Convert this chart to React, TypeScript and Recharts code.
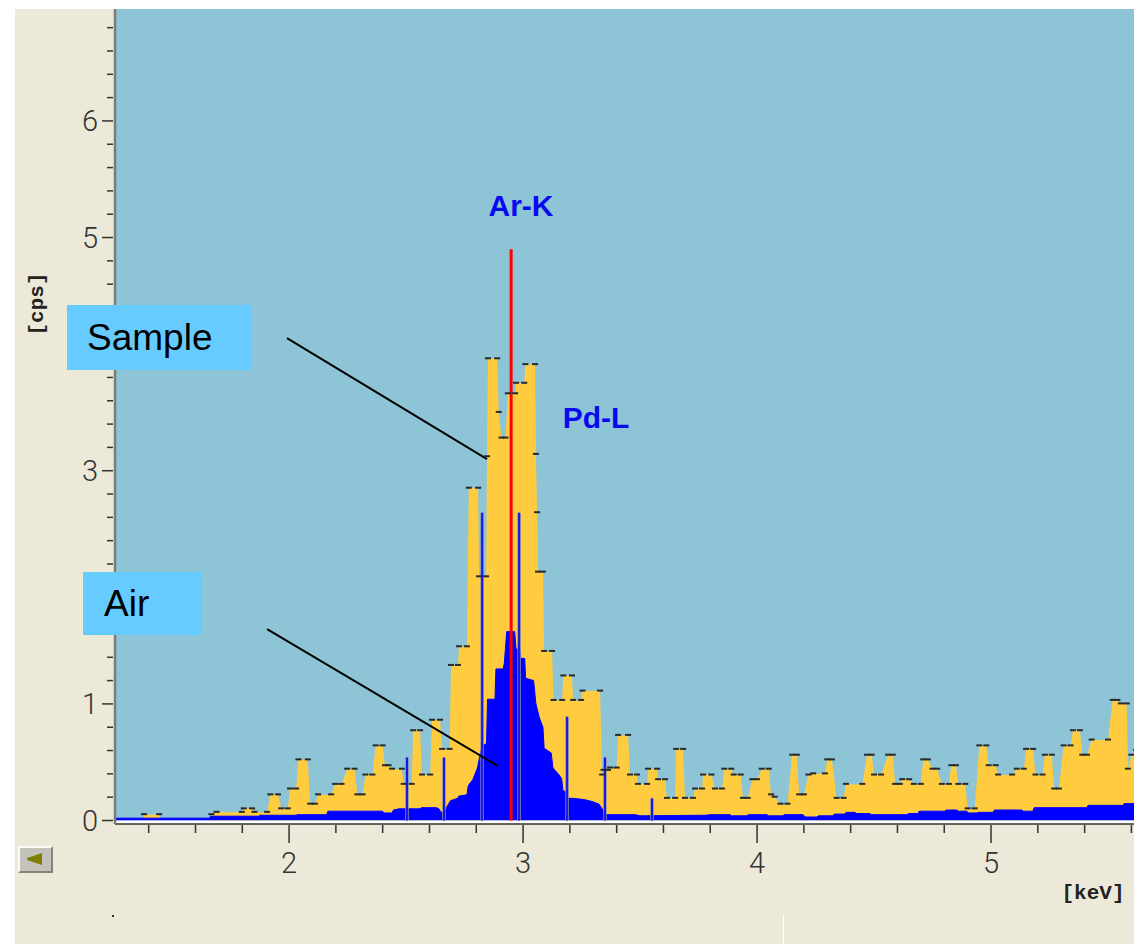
import React from 'react';
import { ComposedChart, Area, XAxis, YAxis, CartesianGrid, ReferenceLine, ReferenceArea } from 'recharts';

// Sample spectrum (keV, cps)
const sampleEnergy = [
  1.256, 1.372, 1.38, 1.445, 1.452, 1.655, 1.668, 1.69, 1.798, 1.806, 1.842, 1.852, 1.906, 1.92, 1.953, 1.966, 1.994,
  2.004, 2.03, 2.04, 2.08, 2.09, 2.11, 2.124, 2.18, 2.197, 2.224, 2.248, 2.28, 2.292, 2.314, 2.326, 2.356, 2.37, 2.4,
  2.41, 2.425, 2.44, 2.482, 2.49, 2.524, 2.53, 2.56, 2.568, 2.603, 2.611, 2.645, 2.654, 2.686, 2.692, 2.722, 2.726,
  2.76, 2.768, 2.808, 2.812, 2.842, 2.846, 2.85, 2.889, 2.896, 2.908, 2.925, 2.935, 2.966, 2.97, 3.005, 3.01, 3.051,
  3.055, 3.06, 3.064, 3.085, 3.09, 3.124, 3.13, 3.167, 3.172, 3.209, 3.214, 3.248, 3.254, 3.329, 3.338, 3.344, 3.363,
  3.372, 3.4, 3.406, 3.449, 3.457, 3.487, 3.491, 3.53, 3.534, 3.573, 3.577, 3.607, 3.615, 3.65, 3.654, 3.684, 3.692,
  3.726, 3.735, 3.765, 3.769, 3.805, 3.82, 3.85, 3.86, 3.89, 3.9, 3.93, 3.94, 3.96, 3.98, 4.0, 4.02, 4.05, 4.06, 4.075,
  4.1, 4.13, 4.15, 4.17, 4.18, 4.2, 4.22, 4.24, 4.29, 4.3, 4.32, 4.34, 4.37, 4.38, 4.45, 4.47, 4.49, 4.5, 4.53, 4.56,
  4.58, 4.59, 4.61, 4.62, 4.65, 4.67, 4.7, 4.71, 4.73, 4.75, 4.77, 4.79, 4.82, 4.83, 4.85, 4.86, 4.89, 4.9, 4.93, 4.95,
  4.98, 4.99, 5.02, 5.03, 5.09, 5.11, 5.14, 5.15, 5.18, 5.19, 5.22, 5.23, 5.26, 5.27, 5.29, 5.31, 5.34, 5.35, 5.38,
  5.39, 5.41, 5.43, 5.5, 5.52, 5.54, 5.555, 5.58, 5.585, 5.6, 5.62,
];
const sampleCps = [
  0, 0, 0.05, 0.05, 0, 0, 0.05, 0.07, 0.07, 0.1, 0.1, 0.07, 0.07, 0.22, 0.22, 0.1, 0.1,
  0.27, 0.27, 0.52, 0.52, 0.14, 0.14, 0.22, 0.22, 0.31, 0.31, 0.44, 0.44, 0.22, 0.22, 0.39, 0.39, 0.64, 0.64,
  0.47, 0.47, 0.44, 0.44, 0.31, 0.31, 0.77, 0.77, 0.39, 0.39, 0.86, 0.86, 0.61, 0.61, 1.33, 1.33, 1.49,
  1.49, 2.85, 2.85, 2.09, 2.09, 3.12, 3.96, 3.96, 3.5, 3.28, 3.28, 3.66, 3.66, 3.75, 3.75, 3.91, 3.91,
  3.14, 2.64, 2.13, 2.13, 1.45, 1.45, 1.03, 1.03, 1.24, 1.24, 1.03, 1.03, 1.11, 1.11, 0.39, 0.43, 0.43,
  0.45, 0.45, 0.73, 0.73, 0.39, 0.39, 0.31, 0.31, 0.44, 0.44, 0.35, 0.35, 0.19, 0.19, 0.61, 0.61, 0.19,
  0.19, 0.27, 0.27, 0.39, 0.39, 0.27, 0.27, 0.44, 0.44, 0.39, 0.39, 0.19, 0.19, 0.35, 0.35, 0.44, 0.44, 0.22, 0.2,
  0.14, 0.14, 0.56, 0.56, 0.22, 0.22, 0.39, 0.4, 0.4, 0.52, 0.52, 0.19, 0.19, 0.31, 0.31, 0.56, 0.56, 0.39, 0.39, 0.56,
  0.56, 0.31, 0.31, 0.35, 0.35, 0.31, 0.31, 0.52, 0.52, 0.44, 0.44, 0.31, 0.31, 0.47, 0.47, 0.31, 0.31, 0.1, 0.1, 0.64,
  0.64, 0.47, 0.47, 0.39, 0.39, 0.44, 0.44, 0.61, 0.61, 0.39, 0.39, 0.56, 0.56, 0.27, 0.27, 0.64, 0.64, 0.77, 0.77,
  0.56, 0.56, 0.69, 0.69, 1.03, 1.03, 1.0, 1.0, 0.44, 0.56, 0.6,
];

// Air spectrum (keV, cps)
const airEnergy = [
  1.256, 1.66, 1.664, 1.87, 1.874, 2.03, 2.034, 2.16, 2.166, 2.4, 2.404, 2.44, 2.446, 2.47, 2.56, 2.565, 2.63, 2.64,
  2.65, 2.665, 2.675, 2.69, 2.72, 2.726, 2.76, 2.766, 2.785, 2.805, 2.815, 2.825, 2.844, 2.848, 2.88, 2.884, 2.915,
  2.92, 2.93, 2.964, 2.97, 2.987, 2.99, 3.007, 3.011, 3.045, 3.055, 3.07, 3.085, 3.09, 3.12, 3.128, 3.15, 3.165, 3.17,
  3.186, 3.192, 3.215, 3.26, 3.3, 3.325, 3.338, 3.35, 3.48, 3.5, 3.756, 3.78, 3.799, 3.885, 3.89, 3.957, 3.962, 4.043,
  4.048, 4.111, 4.116, 4.197, 4.205, 4.256, 4.262, 4.325, 4.33, 4.376, 4.38, 4.419, 4.424, 4.483, 4.488, 4.641, 4.646,
  4.688, 4.693, 4.803, 4.808, 4.855, 4.86, 4.897, 4.902, 4.94, 4.945, 5.009, 5.014, 5.132, 5.137, 5.179, 5.184, 5.41,
  5.415, 5.564, 5.569, 5.62,
];
const airCps = [
  0.02, 0.02, 0.037, 0.037, 0.045, 0.045, 0.05, 0.05, 0.08, 0.08, 0.065, 0.065, 0.09, 0.1, 0.1, 0.11, 0.11, 0.1,
  0.07, 0.07, 0.12, 0.17, 0.19, 0.21, 0.22, 0.3, 0.35, 0.45, 0.55, 0.64, 0.66, 1.04, 1.04, 1.3, 1.3,
  1.35, 1.62, 1.62, 1.47, 1.47, 1.39, 1.39, 1.22, 1.2, 1.0, 0.88, 0.8, 0.62, 0.58, 0.45, 0.4, 0.36, 0.26,
  0.24, 0.19, 0.19, 0.18, 0.16, 0.14, 0.1, 0.05, 0.05, 0.04, 0.045, 0.045, 0.05, 0.05, 0.04, 0.04, 0.05, 0.05,
  0.04, 0.04, 0.05, 0.05, 0.03, 0.03, 0.04, 0.04, 0.055, 0.055, 0.07, 0.07, 0.06, 0.06, 0.05, 0.05, 0.06,
  0.06, 0.08, 0.08, 0.09, 0.09, 0.08, 0.08, 0.065, 0.065, 0.07, 0.07, 0.09, 0.09, 0.08, 0.08, 0.11, 0.11,
  0.13, 0.13, 0.145, 0.145,
];

// Element marker lines
const markerEnergy = [2.504, 2.662, 2.825, 2.983, 3.188, 3.35, 3.551];
const markerHeight = [0.54, 0.54, 2.64, 2.64, 0.89, 0.54, 0.19];
const arKEnergy = 2.949;
const arKHeight = 4.9;

// Annotation pointer lines (keV, cps)
const samplePointer = [{ x: 1.991, y: 4.138 }, { x: 2.846, y: 3.1 }];
const airPointer = [{ x: 1.906, y: 1.642 }, { x: 2.893, y: 0.467 }];

// Axes
const xTicks = [1.4, 1.6, 1.8, 2, 2.2, 2.4, 2.6, 2.8, 3, 3.2, 3.4, 3.6, 3.8, 4, 4.2, 4.4, 4.6, 4.8, 5, 5.2, 5.4, 5.6];
const xLabels = [2, 3, 4, 5];
const yTicks = [
  0, 0.2, 0.4, 0.6, 0.8, 1, 1.2, 1.4, 1.6, 1.8, 2, 2.2, 2.4, 2.6, 2.8, 3, 3.2, 3.4, 3.6, 3.8, 4, 4.2, 4.4, 4.6, 4.8,
  5, 5.2, 5.4, 5.6, 5.8, 6, 6.2, 6.4, 6.6, 6.8,
];
const yMajor = [0, 1, 2, 3, 4, 5, 6];
// labels 2 and 4 are hidden behind the annotation boxes in the reference
const yLabels = [0, 1, 3, 5, 6];

const sampleData = sampleEnergy.map((x, i) => ({ x, y: sampleCps[i] }));
const airData = airEnergy.map((x, i) => ({ x, y: airCps[i] }));

const tickFont = { fontFamily: 'Roboto, "DejaVu Sans", sans-serif', fontWeight: 300, fontSize: 29, fill: '#333' };

const XTick = (props: any) => {
  const { x, y, payload } = props;
  const v = payload.value;
  const major = xLabels.includes(v);
  return (
    <g>
      <line x1={x} x2={x} y1={y + 1} y2={y + (major ? 19 : 9)} stroke="#333" strokeWidth={1.5} />
      {major && (
        <text x={x} y={y + 49} textAnchor="middle" {...tickFont}>
          {v}
        </text>
      )}
    </g>
  );
};

const YTick = (props: any) => {
  const { x, y, payload } = props;
  const v = payload.value;
  const major = yMajor.includes(v);
  return (
    <g>
      <line x1={x - (major ? 13 : 8)} x2={x - 2} y1={y} y2={y} stroke="#333" strokeWidth={1.5} />
      {yLabels.includes(v) && (
        <text x={x - 17} y={y} dy="0.36em" textAnchor="end" {...tickFont}>
          {v}
        </text>
      )}
    </g>
  );
};

const renderDash = (p: any) => {
  const key = `dash-${p.index}`;
  if (!p.payload || !(p.payload.y > 0) || p.cx == null || p.cy == null) return <g key={key} />;
  return <rect key={key} x={p.cx - 3} y={p.cy - 1.5} width={6} height={2} fill="#2a2a2a" />;
};

const boxStyle: React.CSSProperties = {
  position: 'absolute',
  background: '#66CCFF',
  color: '#000',
  fontFamily: '"Liberation Sans", Arial, sans-serif',
  fontSize: 37,
  boxSizing: 'border-box',
};

const peakLabel: React.CSSProperties = {
  position: 'absolute',
  color: '#0a0af0',
  fontFamily: '"Liberation Sans", Arial, sans-serif',
  fontWeight: 700,
  fontSize: 30,
  lineHeight: '30px',
  transform: 'translate(-50%, -50%)',
  whiteSpace: 'nowrap',
};

const unitLabel: React.CSSProperties = {
  position: 'absolute',
  fontFamily: '"Liberation Mono", "DejaVu Sans Mono", monospace',
  fontWeight: 700,
  fontSize: 21,
  color: '#222',
  whiteSpace: 'nowrap',
};

export default function App() {
  return (
    <div style={{ position: 'absolute', left: 0, top: 0, width: 1134, height: 944, background: '#fff', overflow: 'hidden' }}>
      <div style={{ position: 'absolute', left: 15, top: 9, width: 1119, height: 935, background: '#ECE9D8' }} />
      <div style={{ position: 'absolute', left: 0, top: 0 }}>
        <ComposedChart width={1134} height={944} margin={{ top: 9, right: 0, bottom: 0, left: 0 }}>
          <CartesianGrid fill="#8DC4D6" stroke="none" horizontal={false} vertical={false} />
          <XAxis
            type="number"
            dataKey="x"
            domain={[1.256, 5.611]}
            allowDataOverflow
            ticks={xTicks}
            interval={0}
            height={120}
            tickSize={0}
            tickMargin={0}
            tickLine={false}
            axisLine={{ stroke: '#333', strokeWidth: 1.5 }}
            tick={<XTick />}
          />
          <YAxis
            type="number"
            domain={[-0.03, 6.96]}
            allowDataOverflow
            ticks={yTicks}
            interval={0}
            width={115}
            tickSize={0}
            tickMargin={0}
            tickLine={false}
            axisLine={{ stroke: '#7d7b74', strokeWidth: 2.5 }}
            tick={<YTick />}
          />
          <Area
            data={sampleData}
            dataKey="y"
            type="linear"
            fill="#FFCC40"
            fillOpacity={1}
            stroke="none"
            dot={renderDash}
            activeDot={false}
            isAnimationActive={false}
          />
          <Area
            data={airData}
            dataKey="y"
            type="linear"
            fill="#0000FF"
            fillOpacity={1}
            stroke="#0000FF"
            strokeWidth={1}
            dot={false}
            activeDot={false}
            isAnimationActive={false}
          />
          <ReferenceArea y1={-0.03} y2={0} fill="#ffffff" fillOpacity={1} stroke="none" ifOverflow="visible" />
          {markerEnergy.map((e, i) => (
            <ReferenceLine
              key={`mg${i}`}
              segment={[{ x: e, y: 0 }, { x: e, y: markerHeight[i] }]}
              stroke="#8a8aa8"
              strokeWidth={3.5}
              ifOverflow="visible"
            />
          ))}
          {markerEnergy.map((e, i) => (
            <ReferenceLine
              key={`mb${i}`}
              segment={[{ x: e, y: 0 }, { x: e, y: markerHeight[i] }]}
              stroke="#1818e8"
              strokeWidth={2}
              ifOverflow="visible"
            />
          ))}
          <ReferenceLine
            segment={[{ x: arKEnergy, y: 0 }, { x: arKEnergy, y: arKHeight }]}
            stroke="#ff0000"
            strokeWidth={3}
            ifOverflow="visible"
          />
          <ReferenceLine segment={samplePointer} stroke="#000" strokeWidth={2} ifOverflow="visible" />
          <ReferenceLine segment={airPointer} stroke="#000" strokeWidth={2} ifOverflow="visible" />
        </ComposedChart>
      </div>

      <div style={{ ...boxStyle, left: 67, top: 305, width: 184, height: 65, lineHeight: '65px', paddingLeft: 20 }}>Sample</div>
      <div style={{ ...boxStyle, left: 83, top: 572, width: 119, height: 63, lineHeight: '63px', paddingLeft: 21 }}>Air</div>

      <div style={{ ...peakLabel, left: 521, top: 206 }}>Ar-K</div>
      <div style={{ ...peakLabel, left: 596, top: 418 }}>Pd-L</div>

      <div style={{ ...unitLabel, left: 37, top: 304, transform: 'translate(-50%, -50%) rotate(-90deg)' }}>[cps]</div>
      <div style={{ ...unitLabel, left: 1093, top: 893, transform: 'translate(-50%, -50%)' }}>[keV]</div>

      <div
        style={{
          position: 'absolute',
          left: 18,
          top: 846,
          width: 35,
          height: 27,
          boxSizing: 'border-box',
          background: '#C4C2BC',
          borderTop: '2px solid #fbfbf8',
          borderLeft: '2px solid #fbfbf8',
          borderBottom: '2px solid #85837c',
          borderRight: '2px solid #85837c',
        }}
      >
        <svg width={31} height={23} style={{ position: 'absolute', left: 0, top: 0 }}>
          <polygon points="7,10 22,5 22,17 7,12" fill="#808000" />
        </svg>
      </div>
      <div style={{ position: 'absolute', left: 112, top: 915, width: 2, height: 2, background: '#333' }} />
      <div style={{ position: 'absolute', left: 783, top: 915, width: 1, height: 29, background: '#fff' }} />
    </div>
  );
}
